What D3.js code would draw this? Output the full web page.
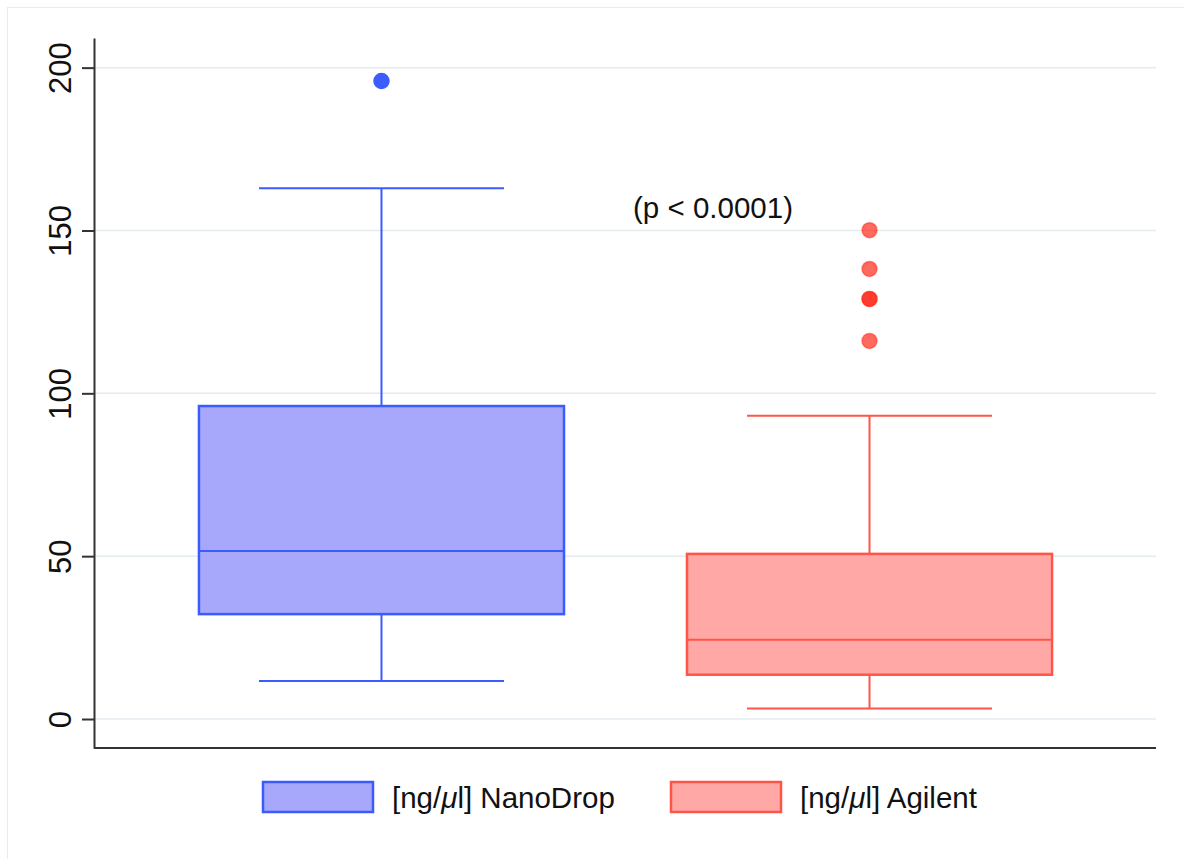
<!DOCTYPE html>
<html>
<head>
<meta charset="utf-8">
<script src="https://cdn.jsdelivr.net/npm/d3@7"></script>
<style>
  html, body { margin: 0; padding: 0; background: #fff; }
  svg { display: block; font-family: "Liberation Sans", Arial, Helvetica, sans-serif; }
</style>
</head>
<body>
<svg id="chart" width="1184" height="859"></svg>
<script>
// Concentration summaries per method (ng/µl)
const categories = ["NanoDrop", "Agilent"];
const whiskerLow = [11.7, 3.2];
const q1 = [32.2, 13.6];
const median = [51.6, 24.3];
const q3 = [96.1, 50.7];
const whiskerHigh = [163.0, 93.1];
const outliersNanoDrop = [195.9];
const outliersAgilent = [150.1, 138.2, 129.0, 129.0, 116.1];
const yTicks = [0, 50, 100, 150, 200];
const pLabel = "(p < 0.0001)";

const outliers = [outliersNanoDrop, outliersAgilent];
const strokeCol = ["#3b5bff", "#ff5448"];
const fillCol = ["#a7a8fc", "#ffa8a5"];
const dotCol = ["#3d5cff", "#ff2a1a"];

const svg = d3.select("#chart");

// outer frame
svg.append("rect").attr("x", 7.5).attr("y", 7.5).attr("width", 1190).attr("height", 852)
  .attr("fill", "none").attr("stroke", "#e6ecef").attr("stroke-width", 1);

const plotLeft = 95, plotRight = 1156;
const y = d3.scaleLinear().domain([-8.9, 209.1]).range([748, 38]);
const x = d3.scalePoint().domain(categories).range([plotLeft, plotRight]).padding(0.587);
const step = x.step();
const boxW = step * 0.748;
const capW = step * 0.502;

// gridlines
svg.append("g").selectAll("line").data(yTicks).join("line")
  .attr("x1", plotLeft).attr("x2", plotRight)
  .attr("y1", d => y(d)).attr("y2", d => y(d))
  .attr("stroke", "#e3ebef").attr("stroke-width", 1.5);

// y axis
const yAxis = svg.append("g").attr("transform", `translate(${plotLeft - 1},0)`)
  .call(d3.axisLeft(y).tickValues(yTicks).tickSize(12).tickPadding(10).tickSizeOuter(0));
yAxis.select(".domain").attr("stroke", "#333").attr("stroke-width", 2);
yAxis.selectAll(".tick line").attr("stroke", "#333").attr("stroke-width", 2);
yAxis.selectAll(".tick text")
  .attr("x", null).attr("dy", null)
  .attr("transform", "translate(-23,0) rotate(-90)")
  .attr("text-anchor", "middle")
  .attr("font-size", 31).attr("fill", "#111")
  .attr("font-family", "'Liberation Sans', Arial, sans-serif");

// x axis baseline
svg.append("line").attr("x1", plotLeft - 1).attr("x2", plotRight)
  .attr("y1", y(-8.9)).attr("y2", y(-8.9))
  .attr("stroke", "#333").attr("stroke-width", 2);

// boxes
const groups = svg.append("g").selectAll("g").data(categories).join("g");
groups.each(function(c, i) {
  const g = d3.select(this);
  const cx = x(c);
  // whisker stems
  g.append("line").attr("x1", cx).attr("x2", cx)
    .attr("y1", y(q3[i])).attr("y2", y(whiskerHigh[i]))
    .attr("stroke", strokeCol[i]).attr("stroke-width", 2);
  g.append("line").attr("x1", cx).attr("x2", cx)
    .attr("y1", y(q1[i])).attr("y2", y(whiskerLow[i]))
    .attr("stroke", strokeCol[i]).attr("stroke-width", 2);
  // caps
  [whiskerHigh[i], whiskerLow[i]].forEach(v => {
    g.append("line").attr("x1", cx - capW / 2).attr("x2", cx + capW / 2)
      .attr("y1", y(v)).attr("y2", y(v))
      .attr("stroke", strokeCol[i]).attr("stroke-width", 2);
  });
  // box
  g.append("rect").attr("x", cx - boxW / 2).attr("width", boxW)
    .attr("y", y(q3[i])).attr("height", y(q1[i]) - y(q3[i]))
    .attr("fill", fillCol[i]).attr("stroke", strokeCol[i]).attr("stroke-width", 2.5);
  // median
  g.append("line").attr("x1", cx - boxW / 2).attr("x2", cx + boxW / 2)
    .attr("y1", y(median[i])).attr("y2", y(median[i]))
    .attr("stroke", strokeCol[i]).attr("stroke-width", 2);
  // outliers
  g.selectAll("circle").data(outliers[i]).join("circle")
    .attr("cx", cx).attr("cy", d => y(d)).attr("r", 7.5)
    .attr("fill", dotCol[i]).attr("fill-opacity", i === 0 ? 1 : 0.7)
    .attr("stroke", dotCol[i]).attr("stroke-opacity", i === 0 ? 1 : 0.5)
    .attr("stroke-width", 1.5);
});

// significance label
svg.append("text").attr("x", 713).attr("y", 218).attr("text-anchor", "middle")
  .attr("font-size", 29.5).attr("fill", "#111").text(pLabel);

// legend
const legX = [263, 671];
const leg = svg.append("g").selectAll("g").data(categories).join("g")
  .attr("transform", (d, i) => `translate(${legX[i]},782)`);
leg.append("rect").attr("width", 110).attr("height", 30)
  .attr("fill", (d, i) => fillCol[i]).attr("stroke", (d, i) => strokeCol[i]).attr("stroke-width", 2.5);
const lt = leg.append("text").attr("x", 129).attr("y", 26)
  .attr("font-size", 29.5).attr("fill", "#111");
lt.append("tspan").text("[ng/");
lt.append("tspan").attr("font-style", "italic").text("μ");
lt.append("tspan").text(d => "l] " + d);
</script>
</body>
</html>
